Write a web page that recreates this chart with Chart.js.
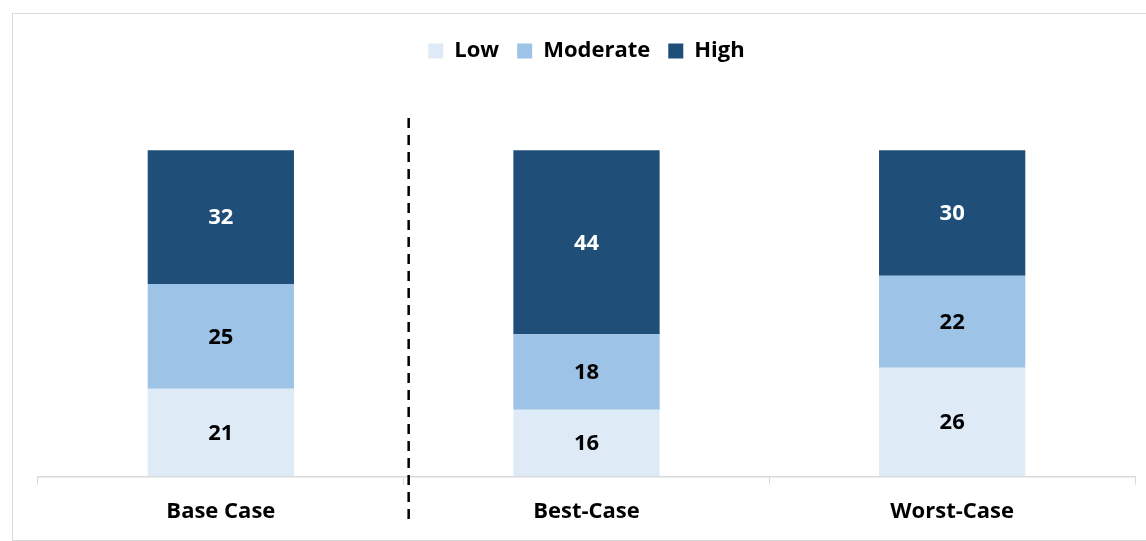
<!DOCTYPE html>
<html>
<head>
<meta charset="utf-8">
<script src="https://cdn.jsdelivr.net/npm/chart.js@4"></script>
<style>
  html, body { margin: 0; padding: 0; background: #fff; }
  #wrap { position: relative; width: 1146px; height: 541px; overflow: hidden; }
  #frame {
    position: absolute; left: 12px; top: 13px; width: 1200px; height: 526px;
    border: 1px solid #d9d9d9;
  }
  canvas { position: absolute; left: 0; top: 0; }
</style>
</head>
<body>
<div id="wrap">
  <div id="frame"></div>
  <canvas id="chart" width="1146" height="541"></canvas>
</div>
<script>
// Scenario categories and stacked values
const scenarios = ["Base Case", "Best-Case", "Worst-Case"];
const lowValues = [21, 16, 26];
const moderateValues = [25, 18, 22];
const highValues = [32, 44, 30];

const FONT = "'Open Sans', 'DejaVu Sans', sans-serif";

// Prints each segment's value in the middle of the segment
const valueLabels = {
  id: "valueLabels",
  afterDatasetsDraw(chart) {
    const ctx = chart.ctx;
    ctx.save();
    ctx.font = "bold 22px " + FONT;
    ctx.textAlign = "center";
    ctx.textBaseline = "middle";
    chart.data.datasets.forEach((ds, i) => {
      const meta = chart.getDatasetMeta(i);
      meta.data.forEach((bar, j) => {
        const mid = (bar.y + bar.base) / 2;
        ctx.fillStyle = ds.labelColor;
        ctx.fillText(ds.data[j], bar.x, mid + 1);
      });
    });
    ctx.restore();
  },
};

// Extra room under the legend
const legendGap = {
  id: "legendGap",
  beforeInit(chart) {
    const fit = chart.legend.fit;
    chart.legend.fit = function () {
      fit.bind(chart.legend)();
      this.height += 28;
    };
  },
};

// Dashed divider between the base case and the other scenarios
const divider = {
  id: "divider",
  afterDraw(chart) {
    const xs = chart.scales.x;
    const x = (xs.getPixelForValue(0) + xs.getPixelForValue(1)) / 2 + 5;
    const ctx = chart.ctx;
    ctx.save();
    ctx.strokeStyle = "#000";
    ctx.lineWidth = 2.5;
    ctx.setLineDash([10, 7]);
    ctx.beginPath();
    ctx.moveTo(x, 118);
    ctx.lineTo(x, 524);
    ctx.stroke();
    ctx.restore();
  },
};

new Chart(document.getElementById("chart"), {
  type: "bar",
  data: {
    labels: scenarios,
    datasets: [
      {
        label: "Low",
        data: lowValues,
        backgroundColor: "#deebf7",
        labelColor: "#000",
      },
      {
        label: "Moderate",
        data: moderateValues,
        backgroundColor: "#9dc3e6",
        labelColor: "#000",
      },
      {
        label: "High",
        data: highValues,
        backgroundColor: "#1f4e79",
        labelColor: "#fff",
      },
    ],
  },
  options: {
    responsive: false,
    animation: false,
    layout: { padding: { left: 38, right: 11, top: 22, bottom: 2 } },
    datasets: {
      bar: { categoryPercentage: 1, barPercentage: 0.4 },
    },
    plugins: {
      legend: {
        position: "top",
        labels: {
          boxWidth: 15,
          boxHeight: 15,
          padding: 18,
          color: "#000",
          font: { family: FONT, size: 22, weight: "bold" },
        },
      },
      tooltip: { enabled: false },
    },
    scales: {
      x: {
        stacked: true,
        grid: {
          drawOnChartArea: false,
          color: "#d9d9d9",
          tickLength: 8,
          offset: true,
        },
        border: { color: "#d9d9d9", width: 1.5 },
        ticks: {
          color: "#000",
          padding: 14,
          font: { family: FONT, size: 22, weight: "bold" },
        },
      },
      y: {
        stacked: true,
        display: false,
        min: 0,
        max: 90,
      },
    },
  },
  plugins: [valueLabels, legendGap, divider],
});
</script>
</body>
</html>
